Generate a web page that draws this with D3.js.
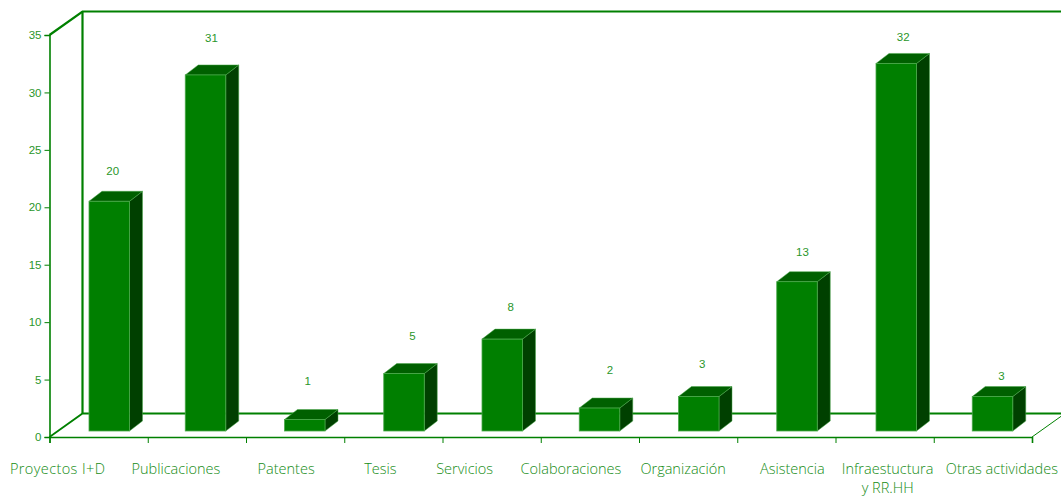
<!DOCTYPE html>
<html><head><meta charset="utf-8">
<script src="https://cdn.jsdelivr.net/npm/d3@7"></script>
<style>html,body{margin:0;padding:0;background:#fff;overflow:hidden}svg{display:block}</style>
</head><body><svg id="c" width="1061" height="500"></svg>
<script>
const categories=[["Proyectos I+D"],["Publicaciones"],["Patentes"],["Tesis"],["Servicios"],["Colaboraciones"],["Organización"],["Asistencia"],["Infraestuctura","y RR.HH"],["Otras actividades"]];
const values=[20,31,1,5,8,2,3,13,32,3];
const yTicks=[0,5,10,15,20,25,30,35];
const valueNudgeX=[3.5,6,3,8.5,8.5,10.5,3.5,5.5,7,9];
const valueLift=[30,37,39,38,32,38,33,30,26,21];
const catNudge=[-41,-21,-9,-13,-27,-19,-5,6,3,19];
const catSpacing=[.4,0,0,0,0,0,0,0,0,0];
const barNudge=[0,-2,-1,0,0,-1,0,0,1,-1];

const W=1061,GREEN="#008000",TEXT="#2a962a",FRONT="#007f00",TOP="#006000",SIDE="#004000",EDGE="#4aa84a";
const svg=d3.select("#c");
const x=d3.scaleBand().domain(d3.range(values.length)).range([49.5,1032]);
const y=d3.scaleLinear().domain([0,35]).range([437,35]);
const ox=33,oy=-23.5,bw=40.5,dx=13,dy=-10,lift=6;
const font="'Liberation Sans',Arial,sans-serif";

const walls=svg.append("g").attr("fill","none").attr("stroke",GREEN);
const L=x.range()[0],R=x.range()[1];
walls.append("path").attr("stroke-width",2.2).attr("d",`M${L},${y(35)}L${L+ox},${y(35)+oy}H${W}`);
walls.append("path").attr("stroke-width",2.2).attr("d",`M${L+ox},${y(35)+oy}V${y(0)+oy}`);
walls.append("path").attr("stroke-width",1.8).attr("d",`M${L},${y(0)}L${L+ox},${y(0)+oy}H${W}`);
walls.append("path").attr("stroke-width",1).attr("d",`M${R},${y(0)}L${R+ox},${y(0)+oy}`);

const ya=svg.append("g").attr("transform",`translate(${L},0)`).call(d3.axisLeft(y).tickValues(yTicks).tickSize(5).tickPadding(3));
ya.select(".domain").attr("stroke",GREEN).attr("stroke-width",1.6);
ya.selectAll("line").attr("stroke",GREEN);
ya.selectAll("text").attr("fill",TEXT).attr("font-family",font).attr("font-size",11.5);

const xa=svg.append("g").attr("transform",`translate(0,${y(0)})`).call(d3.axisBottom(d3.scaleLinear().domain([0,values.length]).range([L,R])).ticks(values.length).tickSize(6).tickFormat(""));
xa.select(".domain").attr("stroke",GREEN).attr("stroke-width",1.6);
xa.selectAll("line").attr("stroke",GREEN);

const bars=svg.append("g").selectAll("g").data(values).join("g");
const bx=(d,i)=>x(i)+39.5+barNudge[i];
const by=d=>y(d)-lift, base=y(0)-lift;
bars.append("path").attr("fill",SIDE).attr("stroke",EDGE).attr("stroke-width",.5)
 .attr("d",(d,i)=>{const a=bx(d,i)+bw;return `M${a},${by(d)}l${dx},${dy}V${base+dy}L${a},${base}Z`});
bars.append("path").attr("fill",TOP).attr("stroke",EDGE).attr("stroke-width",.5)
 .attr("d",(d,i)=>`M${bx(d,i)},${by(d)}l${dx},${dy}h${bw}l${-dx},${-dy}Z`);
bars.append("rect").attr("fill",FRONT).attr("stroke",EDGE).attr("stroke-width",.8)
 .attr("x",bx).attr("y",by).attr("width",bw).attr("height",d=>base-by(d));
bars.append("text").attr("text-anchor","middle").attr("font-family",font).attr("font-size",11.5).attr("fill",TEXT)
 .attr("x",(d,i)=>bx(d,i)+bw/2+valueNudgeX[i]).attr("y",(d,i)=>by(d)-valueLift[i]+4).text(d=>d);

const cats=svg.append("g").selectAll("text").data(categories).join("text")
 .attr("text-anchor","middle").attr("font-family","'Open Sans'").attr("font-weight",300).attr("font-size",14.5).attr("fill","#158c15")
 .attr("letter-spacing",(d,i)=>catSpacing[i])
 .attr("x",(d,i)=>x(i)+x.bandwidth()/2+catNudge[i]).attr("y",474);
cats.selectAll("tspan").data(d=>d).join("tspan").attr("x",function(){return this.parentNode.getAttribute("x")}).attr("dy",(d,i)=>i?19:0).text(d=>d);
</script></body></html>
